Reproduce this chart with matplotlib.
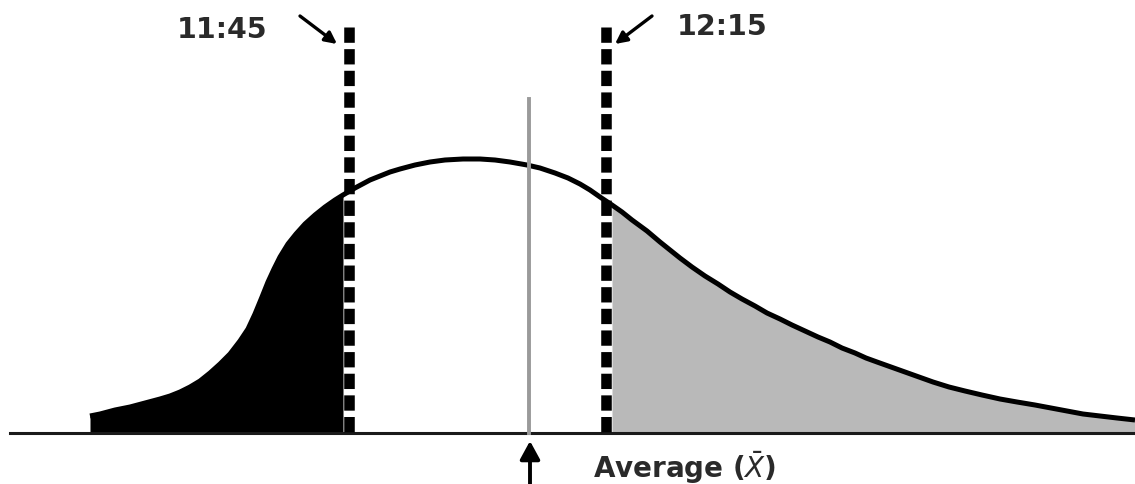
import numpy as np
import matplotlib
matplotlib.use("Agg")
import matplotlib.pyplot as plt

# curve (pixel units, y grows downward)
curve_x = [90, 100, 115, 130, 145, 160, 170, 180, 190, 200, 210, 220, 230, 240,
           248, 255, 262, 268, 274, 280, 288, 296, 305, 315, 325, 335, 343, 355,
           370, 380, 390, 400, 415, 430, 445, 463, 480, 495, 510, 527, 540, 555,
           568, 580, 590, 600, 612, 622, 632, 647, 660, 670, 680, 692, 705, 718,
           730, 742, 755, 767, 780, 792, 805, 818, 830, 842, 855, 866, 877, 891,
           905, 919, 933, 949, 965, 982, 1000, 1017, 1035, 1051, 1067, 1083,
           1100, 1117, 1135]
curve_y = [417, 415, 411, 408, 404, 400, 397, 393, 388, 382, 374, 365, 355, 342,
           330, 315, 298, 283, 270, 258, 245, 235, 225, 216, 208, 201, 196, 189,
           181, 177, 173, 170, 166, 163, 161, 160, 160, 161, 163, 166, 169, 174,
           179, 185, 191, 198, 206, 213, 221, 232, 243, 251, 259, 268, 277, 285,
           293, 300, 307, 314, 320, 326, 332, 338, 343, 349, 354, 359, 363, 368,
           373, 378, 383, 388, 392, 396, 400, 403, 406, 409, 412, 415,
           417, 419, 421]

baseline_y = 434
t_early = 349      # 11:45 line
t_late = 606       # 12:15 line
t_mean = 529       # average
labels = ["11:45", "12:15", "Average ($\\bar{X}$)"]

x = np.array(curve_x)
y = np.array(curve_y)

plt.rcParams["mathtext.fontset"] = "dejavusans"

fig = plt.figure(figsize=(11.35, 4.85), dpi=100)
ax = fig.add_axes([0, 0, 1, 1])
ax.set_xlim(0, 1135)
ax.set_ylim(485, 0)
ax.axis("off")

# shaded tails
ax.fill_between(x, y, baseline_y, where=x <= t_early - 6, color="black", lw=0)
ax.fill_between(x, y, baseline_y, where=x >= t_late + 6, color="#b9b9b9", lw=0)

# the distribution curve
ax.plot(x, y, color="black", lw=3.6, solid_joinstyle="round",
        solid_capstyle="butt")

# baseline
ax.plot([10, 1135], [baseline_y, baseline_y], color="#1a1a1a", lw=2.2)

# mean line
ax.plot([t_mean, t_mean], [100, baseline_y], color="#9a9a9a", lw=2.8)

# dashed time lines
for tx in (t_early, t_late):
    ax.plot([tx, tx], [28, baseline_y], color="black", lw=7.6,
            ls=(0, (1.45, 0.6)), solid_capstyle="butt")

# labels with arrows
ax.text(177, 30, labels[0], fontsize=20.5, fontweight="bold",
        ha="left", va="center", color="#2a2a2a")
ax.annotate("", xy=(337, 45), xytext=(300, 17),
            arrowprops=dict(arrowstyle="-|>,head_length=0.7,head_width=0.35",
                            color="black", lw=2.4, shrinkA=0, shrinkB=0))
ax.text(677, 27, labels[1], fontsize=20.5, fontweight="bold",
        ha="left", va="center", color="#2a2a2a")
ax.annotate("", xy=(615, 45), xytext=(652, 17),
            arrowprops=dict(arrowstyle="-|>,head_length=0.7,head_width=0.35",
                            color="black", lw=2.4, shrinkA=0, shrinkB=0))

ax.annotate("", xy=(t_mean + 1, 442), xytext=(t_mean + 1, 490),
            arrowprops=dict(arrowstyle="-|>,head_length=1.1,head_width=0.6",
                            color="black", lw=2.8, shrinkA=0, shrinkB=0))
ax.text(593, 478, labels[2], fontsize=20, fontweight="bold",
        ha="left", va="baseline", color="#2a2a2a")

fig.savefig("out.png", dpi=100)
